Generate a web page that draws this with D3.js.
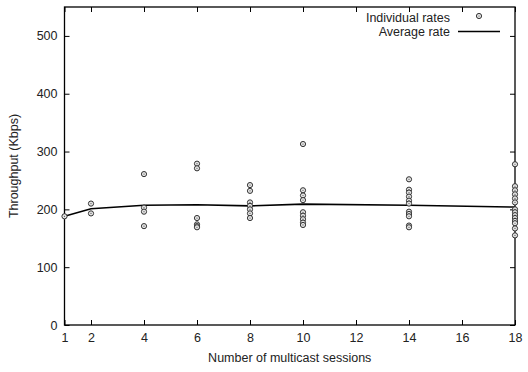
<!DOCTYPE html>
<html>
<head>
<meta charset="utf-8">
<script src="https://cdn.jsdelivr.net/npm/d3@7"></script>
<style>
  body { margin: 0; background: #fff; }
  svg { display: block; font-family: "Liberation Sans", Arial, sans-serif; }
</style>
</head>
<body>
<svg id="chart" width="528" height="372"></svg>
<script>
// sessions on x, per-session individual throughput samples
const sessions = [1, 2, 4, 6, 8, 10, 14, 18];
const individualRates = [
  [188],
  [210, 193],
  [261, 203, 196, 171],
  [279, 271, 185, 174, 171, 169],
  [242, 232, 212, 206, 200, 193, 185],
  [313, 233, 224, 216, 195, 189, 183, 177, 173],
  [252, 234, 229, 222, 215, 210, 196, 192, 188, 172, 169],
  [278, 240, 233, 226, 219, 212, 200, 195, 190, 185, 180, 176, 167, 155]
];
const averageRates = [188, 201, 207, 208, 206, 209, 207, 204];
const xTicks = [1, 2, 4, 6, 8, 10, 12, 14, 16, 18];
const yTicks = [0, 100, 200, 300, 400, 500];

const mLeft = 64.5, mRight = 515, mTop = 7, mBottom = 325;
const FS = 12.5;
const svg = d3.select('#chart');

const x = d3.scaleLinear().domain([1, 18]).range([mLeft, mRight]);
const y = d3.scaleLinear().domain([0, 550]).range([mBottom, mTop]);

const axisStyle = g => {
  g.select('.domain').remove();
  g.selectAll('line').attr('stroke', '#000');
  g.selectAll('text').attr('font-size', FS).attr('fill', '#222');
};

// bottom / left with labels, ticks pointing in
svg.append('g')
  .attr('transform', `translate(0,${mBottom})`)
  .call(d3.axisBottom(x).tickValues(xTicks).tickSizeInner(-5).tickSizeOuter(0).tickPadding(8))
  .call(axisStyle);

svg.append('g')
  .attr('transform', `translate(${mLeft},0)`)
  .call(d3.axisLeft(y).tickValues(yTicks).tickSizeInner(-5).tickSizeOuter(0).tickPadding(7))
  .call(axisStyle);

// mirrored ticks on top / right
svg.append('g')
  .attr('transform', `translate(0,${mTop})`)
  .call(d3.axisTop(x).tickValues(xTicks).tickSizeInner(-5).tickSizeOuter(0).tickFormat(''))
  .call(axisStyle);

svg.append('g')
  .attr('transform', `translate(${mRight},0)`)
  .call(d3.axisRight(y).tickValues(yTicks).tickSizeInner(-5).tickSizeOuter(0).tickFormat(''))
  .call(axisStyle);

svg.append('rect')
  .attr('x', mLeft).attr('y', mTop)
  .attr('width', mRight - mLeft).attr('height', mBottom - mTop)
  .attr('fill', 'none').attr('stroke', '#000').attr('stroke-width', 1.3);

// average line
const line = d3.line().x((d, i) => x(sessions[i])).y(d => y(d));
svg.append('path')
  .datum(averageRates)
  .attr('d', line)
  .attr('fill', 'none')
  .attr('stroke', '#000')
  .attr('stroke-width', 1.6);

// individual points
const pts = sessions.flatMap((s, i) => individualRates[i].map(v => ({ s, v })));

const drawMark = (g, cx, cy) => {
  g.append('circle').attr('cx', cx).attr('cy', cy).attr('r', 2.6)
    .attr('fill', '#e4e4e4').attr('stroke', '#333').attr('stroke-width', 1);
  g.append('circle').attr('cx', cx).attr('cy', cy).attr('r', 0.6).attr('fill', '#555');
};

const marks = svg.append('g');
pts.forEach(d => drawMark(marks, x(d.s), y(d.v)));

// legend
const legend = svg.append('g').attr('font-size', FS).attr('fill', '#222');
legend.append('text').attr('x', 450).attr('y', 22).attr('text-anchor', 'end').text('Individual rates');
legend.append('text').attr('x', 450).attr('y', 36).attr('text-anchor', 'end').text('Average rate');
drawMark(legend, 479, 16);
legend.append('line').attr('x1', 458).attr('x2', 500).attr('y1', 31.5).attr('y2', 31.5)
  .attr('stroke', '#000').attr('stroke-width', 1.6);

// axis titles
svg.append('text')
  .attr('x', (mLeft + mRight) / 2).attr('y', 362)
  .attr('text-anchor', 'middle').attr('font-size', FS).attr('fill', '#222')
  .text('Number of multicast sessions');

svg.append('text')
  .attr('transform', `translate(18,${(mTop + mBottom) / 2}) rotate(-90)`)
  .attr('text-anchor', 'middle').attr('font-size', FS).attr('fill', '#222')
  .text('Throughput (Kbps)');
</script>
</body>
</html>
